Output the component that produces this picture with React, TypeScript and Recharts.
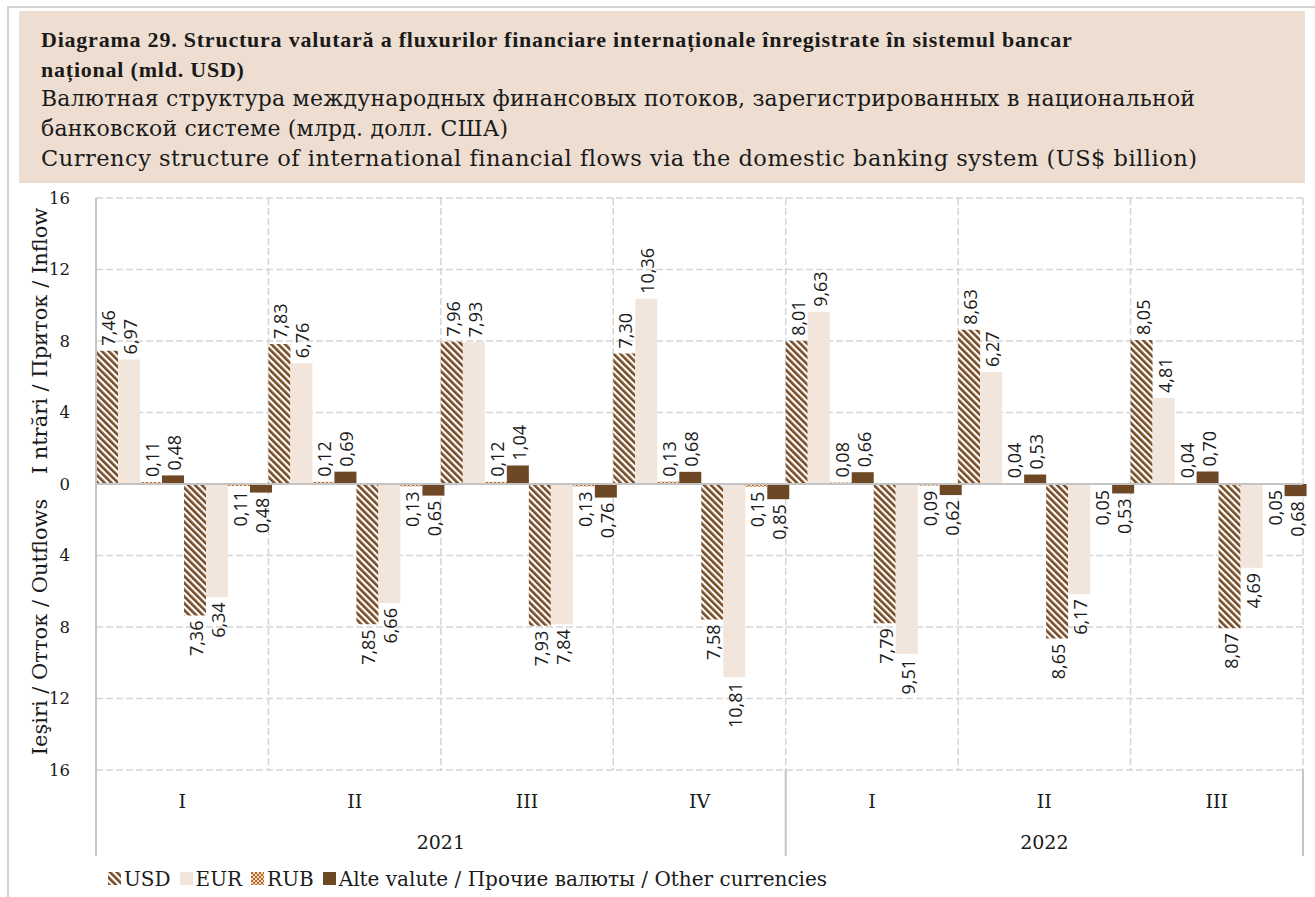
import React from 'react';
import { BarChart, Bar, XAxis, YAxis, CartesianGrid, ReferenceLine, LabelList, Legend } from 'recharts';

const quarters = ['I', 'II', 'III', 'IV', 'I', 'II', 'III'];
const years = ['2021', '2021', '2021', '2021', '2022', '2022', '2022'];
const yearGroups = [
  { label: '2021', start: 0, end: 3 },
  { label: '2022', start: 4, end: 6 },
];
const inUSD = [7.46, 7.83, 7.96, 7.3, 8.01, 8.63, 8.05];
const inEUR = [6.97, 6.76, 7.93, 10.36, 9.63, 6.27, 4.81];
const inRUB = [0.11, 0.12, 0.12, 0.13, 0.08, 0.04, 0.04];
const inOther = [0.48, 0.69, 1.04, 0.68, 0.66, 0.53, 0.7];
const outUSD = [7.36, 7.85, 7.93, 7.58, 7.79, 8.65, 8.07];
const outEUR = [6.34, 6.66, 7.84, 10.81, 9.51, 6.17, 4.69];
const outRUB = [0.11, 0.13, 0.13, 0.15, 0.09, 0.05, 0.05];
const outOther = [0.48, 0.65, 0.76, 0.85, 0.62, 0.53, 0.68];
const yTicks = [-16, -12, -8, -4, 0, 4, 8, 12, 16];

const titleLines = [
  { text: 'Diagrama 29. Structura valutară a fluxurilor financiare internaționale înregistrate în sistemul bancar', bold: true, size: 22, ls: 0.78 },
  { text: 'național (mld. USD)', bold: true, size: 22, ls: 0.78 },
  { text: 'Валютная структура международных финансовых потоков, зарегистрированных в национальной', bold: false, size: 22, ls: 0.2 },
  { text: 'банковской системе (млрд. долл. США)', bold: false, size: 22, ls: 0.2 },
  { text: 'Currency structure of international financial flows via the domestic banking system (US$ billion)', bold: false, size: 22.5, ls: 0.5 },
];
const yTitleUp = 'I ntrări / Приток / Inflow';
const yTitleDown = 'Ieşiri / Отток / Outflows';
const legendItems = [
  { name: 'USD', fill: 'usd' },
  { name: 'EUR', fill: 'eur' },
  { name: 'RUB', fill: 'rub' },
  { name: 'Alte valute / Прочие валюты / Other currencies', fill: 'oth' },
];

const data = quarters.map((q, i) => ({
  q,
  year: years[i],
  inUSD: inUSD[i],
  inEUR: inEUR[i],
  inRUB: inRUB[i],
  inOther: inOther[i],
  outUSD: -outUSD[i],
  outEUR: -outEUR[i],
  outRUB: -outRUB[i],
  outOther: -outOther[i],
}));

const W = 1315;
const H = 897;
const M = { top: 198, right: 12, bottom: 0, left: 28 };
const YW = 68;
const XH = 86;
const LH = 41;
const BAND = (W - M.left - M.right - YW) / quarters.length;

const SERIF = '"DejaVu Serif", "Liberation Serif", serif';
const SERIF_B = '"Liberation Serif", "DejaVu Serif", serif';
const SANS = '"Open Sans", "DejaVu Sans", sans-serif';
const C_USD = '#774B25';
const C_EUR = '#F2E5DC';
const C_RUB = '#B36A2E';
const C_OTH = '#6E4725';
const GRID = '#D5D5D5';
const AXIS = '#C4C4C4';
const INK = '#1a1a1a';

const fmt = (v: number) => Math.abs(v).toFixed(2).replace('.', ',');

const Patterns = ({ p }: { p: string }) => (
  <defs>
    <pattern id={p + 'usd'} patternUnits="userSpaceOnUse" width="4.8" height="4.8" patternTransform="rotate(-45)">
      <rect x="0" y="0" width="4.8" height="4.8" fill="#ffffff" />
      <rect x="0" y="0" width="2.6" height="4.8" fill={C_USD} />
    </pattern>
    <pattern id={p + 'rub'} patternUnits="userSpaceOnUse" width="4" height="4">
      <rect x="0" y="0" width="4" height="4" fill="#F3D7BC" />
      <rect x="0" y="0" width="2" height="2" fill={C_RUB} />
      <rect x="2" y="2" width="2" height="2" fill={C_RUB} />
    </pattern>
  </defs>
);

const fillFor = (p: string, k: string) =>
  k === 'usd' ? `url(#${p}usd)` : k === 'rub' ? `url(#${p}rub)` : k === 'eur' ? C_EUR : C_OTH;

const ValueLabel = (props: any) => {
  const { x, y, width, height, value } = props;
  if (value === undefined || value === null) return null;
  const top = Math.min(y, y + height);
  const bottom = Math.max(y, y + height);
  const cx = x + width / 2 + 1;
  const pos = value >= 0;
  const ly = pos ? top - 5 : bottom + 5;
  return (
    <text
      x={cx}
      y={ly}
      transform={`rotate(-90, ${cx}, ${ly})`}
      textAnchor={pos ? 'start' : 'end'}
      dominantBaseline="central"
      fontFamily={SANS}
      fontSize={18}
      fill={INK}
    >
      {fmt(value)}
    </text>
  );
};

const QuarterTick = (props: any) => {
  const { x, y, index } = props;
  const i = index;
  const half = BAND / 2;
  const els: any[] = [];
  els.push(
    <text key="q" x={x} y={y + 31} textAnchor="middle" dominantBaseline="central" fontFamily={SERIF} fontSize={19} fill={INK}>
      {quarters[i]}
    </text>
  );
  yearGroups.forEach((g, gi) => {
    if (i === g.start) {
      els.push(<line key={'s' + gi} x1={x - half} x2={x - half} y1={y} y2={y + XH} stroke={AXIS} strokeWidth={2} />);
    }
    if (i === g.end && gi === yearGroups.length - 1) {
      els.push(<line key={'e' + gi} x1={x + half} x2={x + half} y1={y} y2={y + XH} stroke={AXIS} strokeWidth={2} />);
    }
    const mid = (g.start + g.end) / 2;
    if (i === Math.floor(mid)) {
      els.push(
        <text key={'y' + gi} x={x + (mid - i) * BAND} y={y + 72} textAnchor="middle" dominantBaseline="central" fontFamily={SERIF} fontSize={19} fill={INK}>
          {g.label}
        </text>
      );
    }
  });
  return <g>{els}</g>;
};

const YTitles = (props: any) => {
  const vb = props.viewBox || {};
  const cx = vb.x + 12;
  const upY = vb.y + vb.height / 4;
  const downY = vb.y + (vb.height * 3) / 4;
  return (
    <g>
      <text x={cx} y={upY} transform={`rotate(-90, ${cx}, ${upY})`} textAnchor="middle" dominantBaseline="central" fontFamily={SERIF} fontSize={21} fill={INK}>
        {yTitleUp}
      </text>
      <text x={cx} y={downY} transform={`rotate(-90, ${cx}, ${downY})`} textAnchor="middle" dominantBaseline="central" fontFamily={SERIF} fontSize={21} fill={INK}>
        {yTitleDown}
      </text>
    </g>
  );
};

const LegendContent = () => (
  <div style={{ height: LH, display: 'flex', alignItems: 'center', paddingLeft: 80, paddingTop: 4, boxSizing: 'border-box', fontFamily: SERIF, fontSize: 20, color: INK }}>
    {legendItems.map((it, i) => (
      <div key={i} style={{ display: 'flex', alignItems: 'center', marginRight: 9 }}>
        <svg width={13} height={13} style={{ marginRight: 3 }}>
          <Patterns p={'lg' + i} />
          <rect x={0} y={0} width={13} height={13} fill={fillFor('lg' + i, it.fill)} />
        </svg>
        <span>{it.name}</span>
      </div>
    ))}
  </div>
);

const series = [
  { key: 'inUSD', f: 'usd' },
  { key: 'inEUR', f: 'eur' },
  { key: 'inRUB', f: 'rub' },
  { key: 'inOther', f: 'oth' },
  { key: 'outUSD', f: 'usd' },
  { key: 'outEUR', f: 'eur' },
  { key: 'outRUB', f: 'rub' },
  { key: 'outOther', f: 'oth' },
];

export default function App() {
  return (
    <div style={{ position: 'absolute', left: 0, top: 0, width: W, height: H, background: '#fff', overflow: 'hidden' }}>
      <div style={{ position: 'absolute', left: 7, top: 6, width: W, height: H, borderLeft: '2px solid #D3D3D3', borderTop: '2px solid #D3D3D3' }} />
      <div style={{ position: 'absolute', left: 19, top: 11, width: 1286, height: 172, background: '#EEDED1' }} />
      {titleLines.map((l, i) => (
        <div
          key={i}
          style={{
            position: 'absolute',
            left: 41,
            top: 25 + i * 29.5,
            height: 30,
            lineHeight: '30px',
            whiteSpace: 'nowrap',
            fontFamily: l.bold ? SERIF_B : SERIF,
            fontSize: l.size,
            letterSpacing: l.ls,
            fontWeight: l.bold ? 700 : 400,
            color: INK,
          }}
        >
          {l.text}
        </div>
      ))}
      <div style={{ position: 'absolute', left: 0, top: 0 }}>
        <BarChart width={W} height={H} data={data} margin={M} barCategoryGap={0} barGap={0}>
          <Patterns p="c" />
          <CartesianGrid
            stroke={GRID}
            strokeWidth={1.5}
            strokeDasharray="7 3"
            verticalCoordinatesGenerator={(p: any) => {
              const o = p.offset;
              return quarters.map((_, i) => o.left + ((i + 1) * o.width) / quarters.length);
            }}
          />
          <XAxis dataKey="q" height={XH} interval={0} axisLine={false} tickLine={false} tickSize={0} tickMargin={0} tick={<QuarterTick />} />
          <YAxis
            type="number"
            domain={[-16, 16]}
            ticks={yTicks}
            interval={0}
            width={YW}
            tickFormatter={(v: number) => String(Math.abs(v))}
            axisLine={{ stroke: AXIS, strokeWidth: 2 }}
            tickLine={false}
            tickSize={0}
            tickMargin={26}
            tick={{ fontFamily: SERIF, fontSize: 16.5, fill: INK }}
            label={(p: any) => <YTitles {...p} />}
          />
          <Legend verticalAlign="bottom" height={LH} content={() => <LegendContent />} />
          {series.map((s) => (
            <Bar key={s.key} dataKey={s.key} fill={fillFor('c', s.f)} isAnimationActive={false}>
              <LabelList dataKey={s.key} content={<ValueLabel />} />
            </Bar>
          ))}
          <ReferenceLine y={0} stroke={AXIS} strokeWidth={2} />
        </BarChart>
      </div>
    </div>
  );
}
